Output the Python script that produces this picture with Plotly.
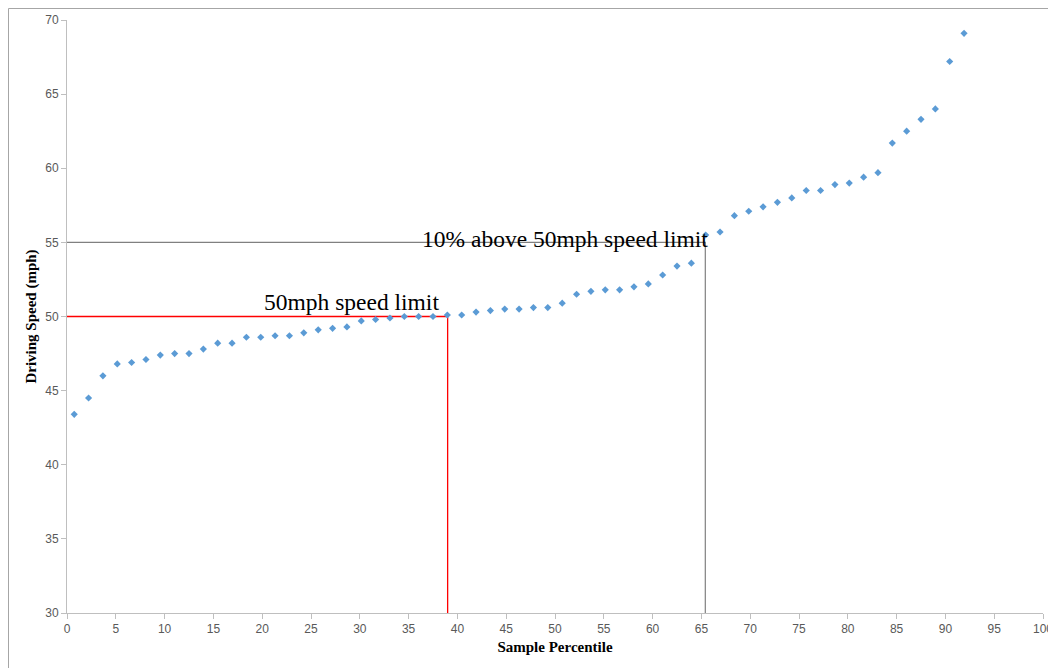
import plotly.graph_objects as go

# Sample percentiles (x) and sorted driving speeds in mph (y)
percentile = [0.74, 2.21, 3.68, 5.15, 6.62, 8.09, 9.56, 11.03, 12.50, 13.97,
              15.44, 16.91, 18.38, 19.85, 21.32, 22.79, 24.26, 25.74, 27.21, 28.68,
              30.15, 31.62, 33.09, 34.56, 36.03, 37.50, 38.97, 40.44, 41.91, 43.38,
              44.85, 46.32, 47.79, 49.26, 50.74, 52.21, 53.68, 55.15, 56.62, 58.09,
              59.56, 61.03, 62.50, 63.97, 65.44, 66.91, 68.38, 69.85, 71.32, 72.79,
              74.26, 75.74, 77.21, 78.68, 80.15, 81.62, 83.09, 84.56, 86.03, 87.50,
              88.97, 90.44, 91.91]
speed = [43.4, 44.5, 46.0, 46.8, 46.9, 47.1, 47.4, 47.5, 47.5, 47.8,
         48.2, 48.2, 48.6, 48.6, 48.7, 48.7, 48.9, 49.1, 49.2, 49.3,
         49.7, 49.8, 49.9, 50.0, 50.0, 50.0, 50.1, 50.1, 50.3, 50.4,
         50.5, 50.5, 50.6, 50.6, 50.9, 51.5, 51.7, 51.8, 51.8, 52.0,
         52.2, 52.8, 53.4, 53.6, 55.5, 55.7, 56.8, 57.1, 57.4, 57.7,
         58.0, 58.5, 58.5, 58.9, 59.0, 59.4, 59.7, 61.7, 62.5, 63.3,
         64.0, 67.2, 69.1]

# reference lines: speed limit and 10% above it, with the percentile where each is reached
limit_speed = 50
limit_pct = 39.0
upper_speed = 55
upper_pct = 65.4

x_ticks = list(range(0, 101, 5))
y_ticks = list(range(30, 71, 5))

serif = "Liberation Serif, Times New Roman, serif"
tick_font = dict(family="Liberation Sans, Arial, sans-serif", size=12, color="#595959")

# page body keeps its 8px margin, so the figure is sized to fit the window
W, H = 1048, 660
M = dict(l=59, r=13, t=12, b=55)
plot_w = W - M["l"] - M["r"]
plot_h = H - M["t"] - M["b"]

fig = go.Figure()

# 50 mph limit (red)
fig.add_trace(go.Scatter(
    x=[0, limit_pct, limit_pct]
    ,y=[limit_speed, limit_speed, 30]
    ,mode="lines"
    ,line=dict(color="#FF0000", width=1.3)
    ,showlegend=False
    ,hoverinfo="skip"
))

# 55 mph (grey)
fig.add_trace(go.Scatter(
    x=[0, upper_pct, upper_pct]
    ,y=[upper_speed, upper_speed, 30]
    ,mode="lines"
    ,line=dict(color="#808080", width=1.2)
    ,showlegend=False
    ,hoverinfo="skip"
))

fig.add_trace(go.Scatter(
    x=percentile
    ,y=speed
    ,mode="markers"
    ,marker=dict(symbol="diamond", size=5.5, color="#5B9BD5")
    ,showlegend=False
    ,name="Driving speed"
))

fig.add_annotation(
    x=20, y=50.95, xref="x", yref="y"
    ,text="50mph speed limit", showarrow=False
    ,xanchor="left", yanchor="middle"
    ,font=dict(family=serif, size=23.5, color="black")
)
fig.add_annotation(
    x=36.2, y=55.25, xref="x", yref="y"
    ,text="10% above 50mph speed limit", showarrow=False
    ,xanchor="left", yanchor="middle"
    ,font=dict(family=serif, size=23.5, color="black")
)

# outer chart frame (only top and left edges show in the picture)
fig.add_shape(
    type="rect", xref="paper", yref="paper"
    ,x0=-(M["l"] - 0.5) / plot_w, x1=1.2
    ,y0=-0.3, y1=1 + (M["t"] - 0.5) / plot_h
    ,line=dict(color="#A6A6A6", width=1)
    ,layer="below"
)

fig.update_xaxes(
    range=[0, 100], tickvals=x_ticks
    ,showgrid=False, zeroline=False
    ,showline=True, linecolor="#BFBFBF", linewidth=1
    ,ticks="outside", ticklen=5, tickcolor="#BFBFBF"
    ,tickfont=tick_font
    ,automargin=False
    ,title=dict(text="<b>Sample Percentile</b>", font=dict(family=serif, size=15, color="black"), standoff=6)
)
fig.update_yaxes(
    range=[30, 70], tickvals=y_ticks
    ,showgrid=False, zeroline=False
    ,showline=True, linecolor="#BFBFBF", linewidth=1
    ,ticks="outside", ticklen=5, tickcolor="#BFBFBF"
    ,tickfont=tick_font
    ,automargin=False
    ,title=dict(text="<b>Driving Speed (mph)</b>", font=dict(family=serif, size=15, color="black"), standoff=4)
)

fig.update_layout(
    width=W
    ,height=H
    ,autosize=False
    ,margin=M
    ,plot_bgcolor="white"
    ,paper_bgcolor="white"
)

fig.write_html("out.html")
